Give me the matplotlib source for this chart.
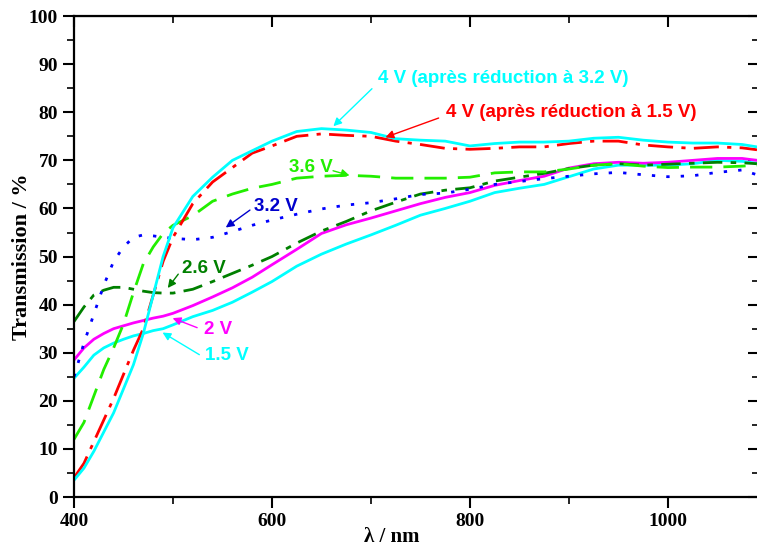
import numpy as np
import matplotlib
matplotlib.use("Agg")
import matplotlib.pyplot as plt
from matplotlib.ticker import MultipleLocator

# wavelengths (nm) shared by all spectra
wl = [400, 410, 420, 430, 440, 450, 460, 470, 480, 490, 500, 520, 540, 560, 580,
      600, 625, 650, 675, 700, 725, 750, 775, 800, 825, 850, 875, 900, 925, 950,
      975, 1000, 1025, 1050, 1075, 1090]

# transmission (%)
t_4v_32 = [3.5, 6, 9.5, 13.5, 17.5, 22.5, 27.5, 34, 42, 50, 56, 62.5, 66.5, 70, 72,
           74, 76, 76.6, 76.3, 75.8, 74.5, 74.2, 74, 73, 73.5, 73.8, 73.8, 74, 74.6, 74.8,
           74.2, 73.8, 73.6, 73.6, 73.3, 72.8]
t_4v_15 = [4, 7, 11.5, 16, 20.5, 25.5, 30.5, 35, 42, 49, 54, 61, 65.5, 68.5, 71.5,
           73, 75, 75.5, 75.2, 75, 74, 73.3, 72.5, 72.3, 72.5, 72.8, 72.8, 73.5, 74, 74,
           73.2, 72.8, 72.5, 72.8, 72.6, 72.2]
t_36v = [12, 15.5, 21, 26.5, 31, 36, 42.5, 48.5, 52, 54.8, 56.5, 58.5, 61.5, 63, 64.2,
         65, 66.3, 66.7, 66.9, 66.7, 66.3, 66.3, 66.3, 66.5, 67.4, 67.6, 67.6, 68.2, 69, 69.3,
         68.8, 68.5, 68.6, 68.6, 68.8, 69]
t_32v = [25, 32, 38, 44, 49, 52, 54, 54.5, 54.3, 54, 53.8, 53.5, 54, 55.2, 56.5,
         57.6, 58.8, 59.9, 60.7, 61.2, 62, 62.9, 63.2, 64, 65, 65.6, 66.2, 66.7, 67.2, 67.5,
         67, 66.6, 66.8, 67.5, 68, 67]
t_26v = [36.5, 39.5, 42, 43, 43.6, 43.6, 43.2, 42.8, 42.5, 42.4, 42.4, 43.2, 44.8, 46.5, 48.2,
         50, 52.8, 55.3, 57.3, 59.5, 61.3, 63, 63.8, 64.3, 65.7, 66.5, 67.3, 68.3, 69, 69.3,
         69, 69.2, 69.4, 69.6, 69.5, 69.3]
t_2v = [28.5, 31, 32.8, 34, 35, 35.6, 36.2, 36.7, 37.2, 37.6, 38.2, 39.8, 41.6, 43.5, 45.7,
        48.3, 51.5, 54.8, 56.6, 58, 59.5, 61, 62.3, 63.3, 64.8, 65.8, 66.7, 68.4, 69.3, 69.6,
        69.4, 69.6, 70, 70.4, 70.4, 70]
t_15v = [24.7, 27, 29.5, 31, 32, 32.8, 33.5, 34, 34.6, 35, 35.8, 37.5, 38.8, 40.5, 42.6,
         44.8, 48, 50.5, 52.6, 54.5, 56.5, 58.6, 60, 61.5, 63.3, 64.2, 65, 66.6, 68.2, 69,
         69, 69, 69.3, 70, 69.8, 69.4]

fig = plt.figure(figsize=(7.57, 5.49), dpi=100)
ax = fig.add_axes([0.0978, 0.0947, 0.9048, 0.876])

ax.plot(wl, t_15v, color="#00FFFF", lw=2, solid_joinstyle="round")
ax.plot(wl, t_2v, color="#FF00FF", lw=2, solid_joinstyle="round")
ax.plot(wl, t_26v, color="#008000", lw=2, dashes=(7, 3, 2, 3))
ax.plot(wl, t_32v, color="#0000FF", lw=2, dashes=(1.2, 4))
ax.plot(wl, t_36v, color="#22EE00", lw=2, dashes=(8, 4))
ax.plot(wl, t_4v_15, color="#FF0000", lw=2, dashes=(9, 3, 1.5, 3))
ax.plot(wl, t_4v_32, color="#00FFFF", lw=2, solid_joinstyle="round")

ax.set_xlim(400, 1092)
ax.set_ylim(0, 100)
ax.xaxis.set_major_locator(MultipleLocator(200))
ax.xaxis.set_minor_locator(MultipleLocator(100))
ax.yaxis.set_major_locator(MultipleLocator(10))
ax.yaxis.set_minor_locator(MultipleLocator(5))
ax.tick_params(which="major", direction="out", length=8, width=1.5)
ax.tick_params(which="minor", direction="out", length=5, width=1.2)
for s in ax.spines.values():
    s.set_linewidth(1.6)

# mirrored inward ticks on top and right
top = ax.secondary_xaxis("top")
top.xaxis.set_major_locator(MultipleLocator(200))
top.xaxis.set_minor_locator(MultipleLocator(100))
top.tick_params(which="major", direction="in", length=8, width=1.5, labeltop=False)
top.tick_params(which="minor", direction="in", length=5, width=1.2)
right = ax.secondary_yaxis("right")
right.yaxis.set_major_locator(MultipleLocator(10))
right.yaxis.set_minor_locator(MultipleLocator(5))
right.tick_params(which="major", direction="in", length=8, width=1.5, labelright=False)
right.tick_params(which="minor", direction="in", length=5, width=1.2)

for lab in ax.get_xticklabels() + ax.get_yticklabels():
    lab.set_fontfamily("Liberation Serif")
    lab.set_fontweight("bold")
    lab.set_fontsize(14)

ax.set_xlabel("λ / nm", fontfamily="Liberation Serif", fontweight="bold", fontsize=15)
ax.xaxis.set_label_coords(0.464, -0.062)
ax.set_ylabel("Transmission / %", fontfamily="Liberation Serif", fontweight="bold", fontsize=16, labelpad=-2)

notes = [
    ("4 V (après réduction à 3.2 V)", "#00FFFF", (707, 87.1), (703, 85.3), (660, 76.7)),
    ("4 V (après réduction à 1.5 V)", "#FF0000", (776, 80.0), (771, 79.0), (712, 74.6)),
    ("3.6 V", "#22EE00", (617, 68.6), (659, 68.0), (681, 66.7)),
    ("3.2 V", "#0000CC", (582, 60.5), (580, 60.0), (551, 55.7)),
    ("2.6 V", "#008000", (509, 47.6), (507, 46.8), (493, 43.0)),
    ("2 V", "#FF00FF", (531, 34.9), (527, 35.0), (497, 37.4)),
    ("1.5 V", "#00FFFF", (532, 29.5), (529, 29.3), (487, 34.5)),
]
for txt, col, pos, tail, head in notes:
    ax.text(pos[0], pos[1], txt, color=col, fontfamily="Liberation Sans", fontweight="bold",
            fontsize=13.5, ha="left", va="center")
    ax.annotate("", xy=head, xytext=tail,
                arrowprops=dict(arrowstyle="-|>", color=col, lw=1, mutation_scale=12))

fig.savefig("out.png", dpi=100)
